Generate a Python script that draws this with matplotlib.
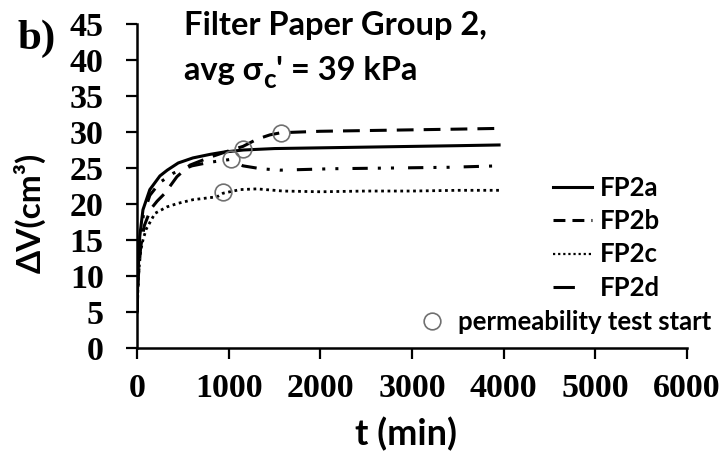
import matplotlib
matplotlib.use("Agg")
import matplotlib.pyplot as plt
from matplotlib.lines import Line2D

# ---- data ----
t_a = [0, 10, 30, 65, 140, 250, 330, 450, 610, 800, 940, 1160, 1500, 2000, 2500, 3000, 3500, 3950]
v_a = [5.0, 10.0, 15.5, 19.2, 22.0, 23.9, 24.7, 25.7, 26.4, 26.9, 27.2, 27.5, 27.7, 27.8, 27.9, 28.0, 28.1, 28.2]

t_b = [0, 15, 40, 80, 150, 220, 305, 436, 578, 796, 982, 1156, 1309, 1450, 1570, 2000, 2500, 3000, 3500, 3950]
v_b = [5.0, 10.0, 14.0, 17.0, 19.3, 20.4, 21.5, 23.8, 25.4, 26.5, 27.3, 28.0, 29.0, 29.6, 29.9, 30.1, 30.2, 30.3, 30.4, 30.5]

t_c = [0, 15, 40, 65, 100, 196, 327, 450, 611, 873, 940, 1124, 1309, 1593, 2000, 2500, 3000, 3500, 3950]
v_c = [5.0, 10.0, 13.5, 15.0, 16.5, 18.7, 19.6, 20.1, 20.6, 21.0, 21.5, 22.0, 22.1, 21.8, 21.7, 21.8, 21.8, 21.9, 21.9]

t_d = [0, 15, 40, 70, 140, 250, 400, 600, 796, 1026, 1156, 1350, 1560, 2138, 2793, 3400, 3950]
v_d = [5.0, 11.0, 15.5, 18.5, 21.2, 23.0, 24.3, 25.3, 25.8, 26.2, 25.3, 24.9, 24.7, 24.9, 25.0, 25.1, 25.3]

perm_t = [940, 1026, 1160, 1570]
perm_v = [21.7, 26.2, 27.7, 29.9]

series_labels = ["FP2a", "FP2b", "FP2c", "FP2d"]
xticks = [0, 1000, 2000, 3000, 4000, 5000, 6000]
yticks = [0, 5, 10, 15, 20, 25, 30, 35, 40, 45]

SANS = ["Lato", "DejaVu Sans"]
SERIF = ["Liberation Serif", "DejaVu Serif"]

fig = plt.figure(figsize=(7.27, 4.59), dpi=100)
W, H = 727, 459
ax = fig.add_axes([137 / W, 1 - 348 / H, 550 / W, 324 / H])

lw = 2.2
ax.plot(t_a, v_a, color="black", lw=lw, linestyle="-")
ax.plot(t_b, v_b, color="black", lw=lw, linestyle=(0, (5.5, 3.3)))
ax.plot(t_c, v_c, color="black", lw=2.0, linestyle=(0, (1.0, 1.3)))
ax.plot(t_d, v_d, color="black", lw=lw, linestyle=(0, (5, 3.3, 1, 3.3, 1, 4.6)))
ax.plot(perm_t, perm_v, linestyle="none", marker="o", markersize=12,
        markerfacecolor="none", markeredgecolor="#707070", markeredgewidth=1.2)

ax.set_xlim(0, 6000)
ax.set_ylim(0, 45)
ax.set_xticks(xticks)
ax.set_yticks(yticks)
for s in ["top", "right"]:
    ax.spines[s].set_visible(False)
for s in ["left", "bottom"]:
    ax.spines[s].set_linewidth(1.8)

ax.tick_params(axis="both", direction="out", length=8, width=1.6, labelsize=24.5)
ax.tick_params(axis="y", pad=16)
ax.tick_params(axis="x", pad=10)
for lab in ax.get_xticklabels() + ax.get_yticklabels():
    lab.set_family(SERIF)
    lab.set_fontweight("bold")

ax.set_xlabel("t (min)", family=SANS, fontweight="bold", fontsize=26)
ax.xaxis.set_label_coords((406 - 137) / 550, (348 - 417) / 324)
ax.set_ylabel("ΔV(cm³)", family=SANS, fontweight="bold", fontsize=24)
ax.yaxis.set_label_coords((46 - 137) / 550, (348 - 213) / 324)

# legends
lfs = 18.5
h1 = [Line2D([], [], color="black", lw=lw, linestyle="-"),
      Line2D([], [], color="black", lw=lw, linestyle=(0, (3.9, 2.3))),
      Line2D([], [], color="black", lw=1.6, linestyle=(0, (1.0, 1.3))),
      Line2D([], [], color="black", lw=lw, linestyle=(0, (7.0, 20)))]
leg1 = ax.legend(h1, series_labels, loc="upper left", frameon=False,
                 bbox_to_anchor=((553 - 137) / 550, (348 - 176) / 324),
                 borderpad=0, borderaxespad=0, handlelength=1.52, handletextpad=0.31,
                 labelspacing=0.36, prop={"family": SANS, "weight": "bold", "size": lfs})
ax.add_artist(leg1)
h2 = [Line2D([], [], linestyle="none", marker="o", markersize=12,
             markerfacecolor="none", markeredgecolor="#707070", markeredgewidth=1.2)]
ax.legend(h2, ["permeability test start"], loc="upper left", frameon=False,
          bbox_to_anchor=((419 - 137) / 550, (348 - 310) / 324),
          borderpad=0, borderaxespad=0, handlelength=1.0, handletextpad=0.5,
          prop={"family": SANS, "weight": "bold", "size": lfs})

# title text
tfs = 23.5
x0 = (184 - 137) / 550
ax.text(x0, (348 - 35) / 324, "Filter Paper Group 2,", transform=ax.transAxes,
        family=SANS, fontweight="bold", fontsize=tfs, va="baseline", ha="left")
fig.canvas.draw()
r = fig.canvas.get_renderer()
y2 = (348 - 80) / 324
t1 = ax.text(x0, y2, "avg σ", transform=ax.transAxes,
             family=SANS, fontweight="bold", fontsize=tfs, va="baseline", ha="left")
bb = t1.get_window_extent(r)
inv = ax.transAxes.inverted()
xs, _ = inv.transform((bb.x1 + 0.5, 0))
t2 = ax.text(xs, y2 - 8 / 324, "c", transform=ax.transAxes, family=SANS, fontweight="bold",
             fontsize=tfs * 0.8, va="baseline", ha="left")
bb2 = t2.get_window_extent(r)
xs3, _ = inv.transform((bb2.x1 + 0.5, 0))
ax.text(xs3, y2, "' = 39 kPa", transform=ax.transAxes, family=SANS, fontweight="bold",
        fontsize=tfs, va="baseline", ha="left")

fig.text(18 / W, 1 - 49 / H, "b)", family=SERIF, fontweight="bold", fontsize=31,
         va="baseline", ha="left")

fig.savefig("out.png", dpi=100)
